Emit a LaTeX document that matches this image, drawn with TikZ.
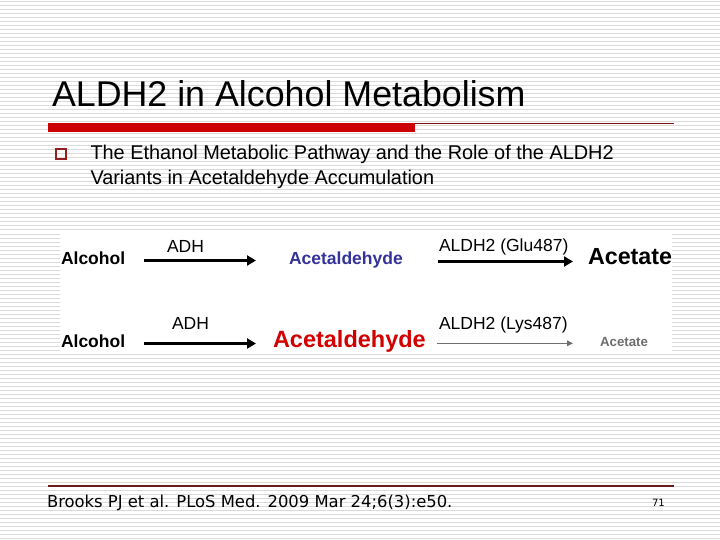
\documentclass[tikz,border=0pt]{standalone}
\usepackage{fontspec}
\setmainfont{Liberation Sans}
\newfontfamily\footfont{DejaVu Sans}
\usetikzlibrary{arrows.meta}
\definecolor{stripegray}{RGB}{218,218,218}
\definecolor{barred}{RGB}{204,0,0}
\definecolor{linered}{RGB}{120,20,20}
\definecolor{footline}{RGB}{105,30,30}
\definecolor{bulletred}{RGB}{150,30,30}
\definecolor{acblue}{RGB}{51,51,153}
\definecolor{acred}{RGB}{210,0,0}
\definecolor{weakgray}{RGB}{110,110,110}
\tikzset{
  stripe/.style={draw=stripegray, line width=1pt},
  txt/.style={inner sep=0pt, outer sep=0pt, anchor=base west},
  lbl/.style={txt, font=\fontsize{17.5}{20}\selectfont},
  bold/.style={txt, font=\fontsize{17.5}{20}\selectfont\bfseries},
  bigarrow/.style={draw=black, line width=2.7pt, -{Triangle[length=9pt,width=10pt]}},
  weakarrow/.style={draw=weakgray, line width=1.6pt, -{Triangle[length=6pt,width=5.5pt]}}
}
\begin{document}
\begin{tikzpicture}[x=1pt,y=-1pt]
\useasboundingbox (0,0) rectangle (720,540);
\fill[white] (0,0) rectangle (720,540);
\foreach \yy in {2,6,...,538} \draw[stripe] (0,\yy) -- (720,\yy);

% title
\node[txt, font=\fontsize{35.8}{40}\selectfont] (title) at (52,107) {ALDH2 in Alcohol Metabolism};
\fill[barred] (48,123) rectangle (415,132);
\coordinate (tl1) at (415,123.5);
\coordinate (tl2) at (674,123.5);
\draw[linered, line width=1.2pt] (tl1) -- (tl2);

% bullet
\draw[bulletred, line width=2pt] (55.5,149.5) rectangle (65.5,159.5);
\node[txt, font=\fontsize{19.9}{24}\selectfont] (b1) at (90.5,160) {The Ethanol Metabolic Pathway and the Role of the ALDH2};
\node[txt, font=\fontsize{19.9}{24}\selectfont] (b2) at (90.5,184.3) {Variants in Acetaldehyde Accumulation};

% diagram panel
\fill[white] (60,232) rectangle (672,353);

% row 1
\node[bold] (alc1) at (61,264) {Alcohol};
\node[lbl] (adh1) at (167,252.7) {ADH};
\node[bold, text=acblue] (ace1) at (289,264) {Acetaldehyde};
\node[lbl] (aldhg) at (439,251.7) {ALDH2 (Glu487)};
\node[txt, font=\fontsize{23.3}{26}\selectfont\bfseries] (act1) at (588,264.3) {Acetate};
\coordinate (r1a) at (144,260.5);
\coordinate (r1b) at (256,260.5);
\coordinate (r1c) at (438,261.5);
\coordinate (r1d) at (573,261.5);
\draw[bigarrow] (r1a) -- (r1b);
\draw[bigarrow] (r1c) -- (r1d);

% row 2
\node[bold] (alc2) at (61,347.7) {Alcohol};
\node[lbl] (adh2) at (172,329) {ADH};
\node[txt, font=\fontsize{23.5}{26}\selectfont\bfseries, text=acred] (ace2) at (273,347) {Acetaldehyde};
\node[lbl] (aldhl) at (439,329) {ALDH2 (Lys487)};
\node[txt, font=\fontsize{13.3}{16}\selectfont\bfseries, text=weakgray] (act2) at (600,346.7) {Acetate};
\coordinate (r2a) at (144,343.5);
\coordinate (r2b) at (256,343.5);
\coordinate (r2c) at (437,343.3);
\coordinate (r2d) at (573,343.3);
\draw[bigarrow] (r2a) -- (r2b);
\draw[weakarrow] (r2c) -- (r2d);

% footer
\coordinate (fl1) at (48,486);
\coordinate (fl2) at (674,486);
\draw[footline, line width=1.2pt] (fl1) -- (fl2);
\node[txt, font=\footfont\fontsize{16.4}{19}\selectfont] (cite) at (47,507.3) {Brooks PJ et al. PLoS Med. 2009 Mar 24;6(3):e50.};
\node[txt, font=\footfont\fontsize{10}{12}\selectfont] (pg) at (652,506.6) {71};
\end{tikzpicture}
\end{document}
